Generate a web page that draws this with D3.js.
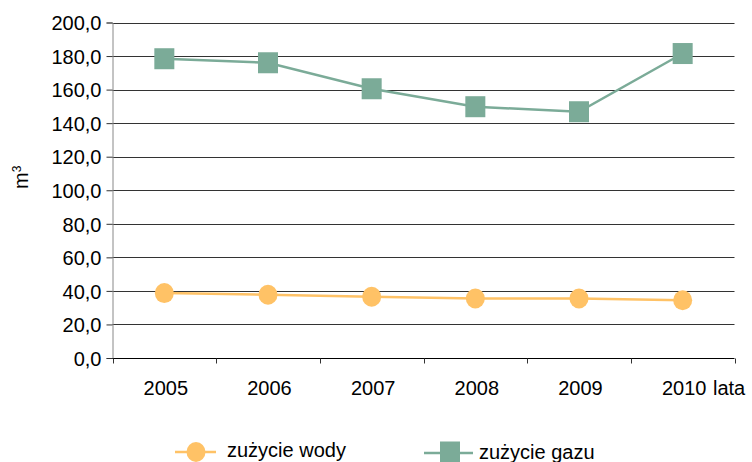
<!DOCTYPE html>
<html>
<head>
<meta charset="utf-8">
<script src="https://cdn.jsdelivr.net/npm/d3@7"></script>
<style>
  body { margin: 0; background: #fff; }
  text { font-family: "Liberation Sans", Arial, sans-serif; fill: #000; }
</style>
</head>
<body>
<script>
var years = ["2005", "2006", "2007", "2008", "2009", "2010"];
var woda = [38.7, 37.7, 36.5, 35.5, 35.5, 34.4];
var gaz = [178.4, 176.0, 160.5, 149.8, 146.8, 181.5];
var yTicks = [0, 20, 40, 60, 80, 100, 120, 140, 160, 180, 200];
var seriesNames = ["zużycie wody", "zużycie gazu"];

var W = 752, H = 462;
var fs = 20;
var cWoda = "#FFC266", cGaz = "#7BAB98";

var svg = d3.select("body").append("svg")
  .attr("width", W).attr("height", H);

var x = d3.scaleBand().domain(years).range([112.5, 734.5]);
var y = d3.scaleLinear().domain([0, 200]).range([358, 22.5]);

function fmt(v) { return d3.format(".1f")(v).replace(".", ","); }

// gridlines
svg.append("g").selectAll("line")
  .data(yTicks.filter(function (d) { return d > 0; }))
  .enter().append("line")
  .attr("x1", 112.5).attr("x2", 734.5)
  .attr("y1", function (d) { return Math.round(y(d)) + 0.5; })
  .attr("y2", function (d) { return Math.round(y(d)) + 0.5; })
  .attr("stroke", "#333").attr("stroke-width", 1);

// y axis
var yAxis = svg.append("g")
  .attr("transform", "translate(112.5,0)")
  .call(d3.axisLeft(y).tickValues(yTicks).tickSize(6).tickFormat(fmt));
yAxis.select(".domain").attr("stroke", "#888");
yAxis.selectAll(".tick line").attr("stroke", "#333");
yAxis.selectAll(".tick text")
  .attr("x", -11).attr("dy", "0.36em")
  .style("font-size", fs + "px").style("font-family", null);

// x axis
var xAxis = svg.append("g")
  .attr("transform", "translate(0,358.5)")
  .call(d3.axisBottom(x).tickSize(0).tickFormat(""));
xAxis.select(".domain").attr("stroke", "#000").attr("d", "M112.5,0H734.5");
xAxis.selectAll(".tick").remove();
var bounds = years.map(function (d) { return x(d); }).concat([x.range()[1]]);
xAxis.selectAll(".xt").data(bounds).enter().append("line")
  .attr("x1", function (d) { return Math.round(d) + 0.5; })
  .attr("x2", function (d) { return Math.round(d) + 0.5; })
  .attr("y1", 0).attr("y2", 5).attr("stroke", "#333");
xAxis.selectAll(".xl").data(years).enter().append("text")
  .attr("x", function (d) { return x(d) + x.bandwidth() / 2 + 1.5; })
  .attr("y", 36)
  .attr("text-anchor", "middle")
  .style("font-size", fs + "px")
  .text(function (d) { return d; });

svg.append("text")
  .attr("x", 713).attr("y", 394.5)
  .style("font-size", fs + "px")
  .text("lata");

// y title m3
var yt = svg.append("text")
  .attr("transform", "translate(28,189) rotate(-90)")
  .style("font-size", fs + "px");
yt.append("tspan").text("m");
yt.append("tspan").attr("dy", "-0.55em").style("font-size", "12px").text("3");

// lines
var line = d3.line()
  .x(function (d, i) { return x(years[i]) + x.bandwidth() / 2; })
  .y(function (d) { return y(d); });

svg.append("path").datum(woda).attr("d", line)
  .attr("fill", "none").attr("stroke", cWoda).attr("stroke-width", 2.5);
svg.append("path").datum(gaz).attr("d", line)
  .attr("fill", "none").attr("stroke", cGaz).attr("stroke-width", 2.5);

svg.append("g").selectAll("ellipse").data(woda).enter().append("ellipse")
  .attr("cx", function (d, i) { return x(years[i]) + x.bandwidth() / 2; })
  .attr("cy", function (d) { return y(d); })
  .attr("rx", 9.5).attr("ry", 10)
  .attr("fill", cWoda);

svg.append("g").selectAll("rect").data(gaz).enter().append("rect")
  .attr("x", function (d, i) { return x(years[i]) + x.bandwidth() / 2 - 10; })
  .attr("y", function (d) { return y(d) - 10.5; })
  .attr("width", 20).attr("height", 21)
  .attr("fill", cGaz);

// legend
var lg = svg.append("g");
lg.append("line").attr("x1", 175).attr("x2", 216).attr("y1", 452).attr("y2", 452)
  .attr("stroke", cWoda).attr("stroke-width", 2.5);
lg.append("ellipse").attr("cx", 196).attr("cy", 452).attr("rx", 9.5).attr("ry", 10)
  .attr("fill", cWoda);
lg.append("text").attr("x", 227).attr("y", 457)
  .style("font-size", fs + "px").text(seriesNames[0]);

lg.append("line").attr("x1", 424).attr("x2", 473).attr("y1", 453).attr("y2", 453)
  .attr("stroke", cGaz).attr("stroke-width", 2.5);
lg.append("rect").attr("x", 440).attr("y", 441.5).attr("width", 20).attr("height", 21)
  .attr("fill", cGaz);
lg.append("text").attr("x", 479).attr("y", 459)
  .style("font-size", fs + "px").text(seriesNames[1]);
</script>
</body>
</html>
